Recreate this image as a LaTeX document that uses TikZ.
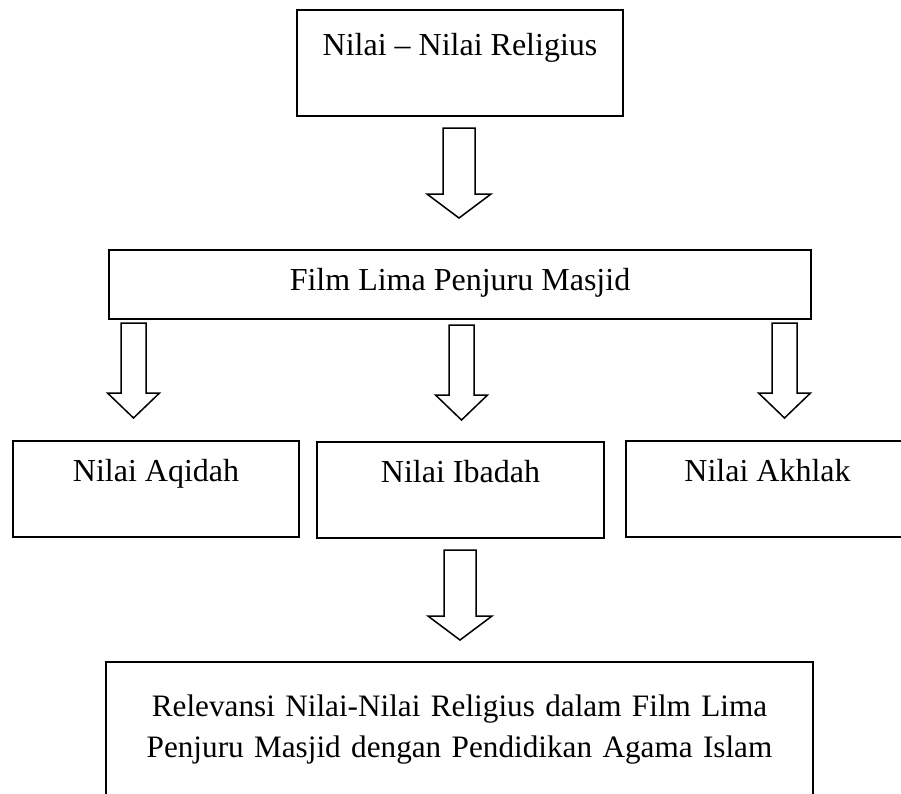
\documentclass[tikz,border=0pt]{standalone}
\usepackage{fontspec}
\setmainfont{Liberation Serif}

\tikzset{
  kotak/.style={draw, line width=1.5pt, inner xsep=0pt, font=\fontsize{32}{41}\selectfont},
  panah/.style={draw, line width=1.5pt, line join=miter},
}
% hollow down arrows, drawn from the top middle of the shaft
\newcommand{\panahbesar}[1]{\draw[panah] (#1) ++(-16,0) -- ++(0,66) -- ++(-16,0) -- ++(32,24) -- ++(32,-24) -- ++(-16,0) -- ++(0,-66) -- cycle;}
\newcommand{\panahkecil}[1]{\draw[panah] (#1) ++(-12.5,0) -- ++(0,70) -- ++(-13.5,0) -- ++(26,25) -- ++(26,-25) -- ++(-13.5,0) -- ++(0,-70) -- cycle;}

\begin{document}
\begin{tikzpicture}[x=1pt,y=-1pt]
\useasboundingbox (0,0) rectangle (901,793);
\clip (0,0) rectangle (901,793);

% Text Node
\node[kotak, anchor=north, minimum width=326pt, text height=22pt, text depth=36pt, inner ysep=24pt] (nilai) at (460,9) {Nilai – Nilai Religius};
% Text Node
\node[kotak, anchor=north, minimum width=702pt, text height=22pt, text depth=9pt, inner ysep=19pt] (film) at (460,249) {Film Lima Penjuru Masjid};
% Text Node
\node[kotak, anchor=north, minimum width=286pt, text height=22pt, text depth=36pt, inner ysep=19pt] (aqidah) at (156,440) {Nilai Aqidah};
% Text Node
\node[kotak, anchor=north, minimum width=287pt, text height=22pt, text depth=36pt, inner ysep=19pt] (ibadah) at (460.5,441) {Nilai Ibadah};
% Text Node
\node[kotak, anchor=north, minimum width=283pt, text height=22pt, text depth=36pt, inner ysep=19pt] (akhlak) at (767.5,440) {Nilai Akhlak};
% Text Node
\node[kotak, font=\fontsize{31.2}{41}\selectfont, text width=707pt, align=center, minimum height=136pt, inner ysep=0pt] (relevansi) at (459.5,730) {Relevansi Nilai-Nilai Religius dalam Film Lima\\Penjuru Masjid dengan Pendidikan Agama Islam};

%Shape: arrows
\coordinate (p1) at (459,128);
\coordinate (p2) at (133.5,323);
\coordinate (p3) at (461.5,325);
\coordinate (p4) at (784.5,323);
\coordinate (p5) at (460,550);
\panahbesar{p1}
\panahkecil{p2}
\panahkecil{p3}
\panahkecil{p4}
\panahbesar{p5}

\end{tikzpicture}
\end{document}
